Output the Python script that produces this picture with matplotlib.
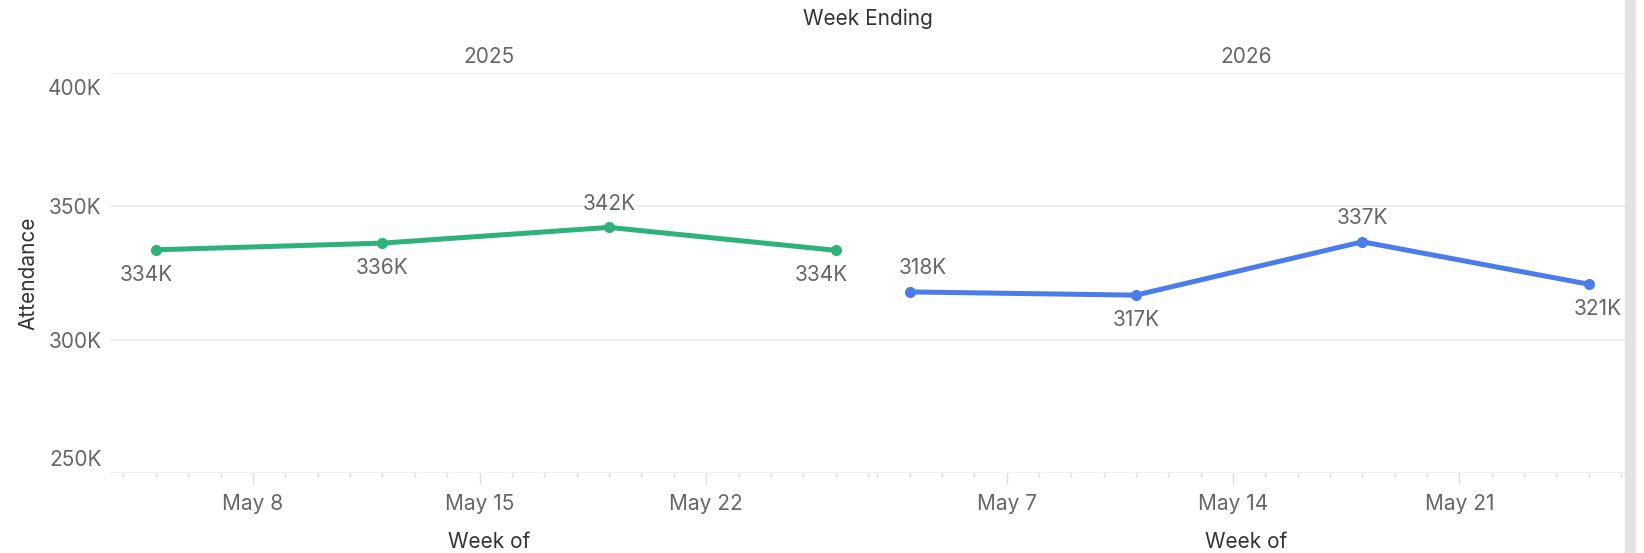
import matplotlib
matplotlib.use("Agg")
import matplotlib.pyplot as plt
import matplotlib.dates as mdates
import matplotlib.transforms as mtransforms
import datetime as dt

plt.rcParams['font.family'] = ['Inter', 'DejaVu Sans']

# data
weeks_2025 = ["2025-05-05", "2025-05-12", "2025-05-19", "2025-05-26"]
attendance_2025 = [333700, 336200, 342100, 333500]
weeks_2026 = ["2026-05-04", "2026-05-11", "2026-05-18", "2026-05-25"]
attendance_2026 = [317900, 316700, 336700, 320800]
years = ["2025", "2026"]
yticks = [250000, 300000, 350000, 400000]
ytick_labels = ["250K", "300K", "350K", "400K"]

panels = [
    dict(dates=weeks_2025, vals=attendance_2025, color="#2db27a",
         xlim=("2025-05-03 14:00", "2025-05-27 00:00"),
         ticks=["2025-05-08", "2025-05-15", "2025-05-22"], dx=[-10, 0, 0, -14]),
    dict(dates=weeks_2026, vals=attendance_2026, color="#4a7ceb",
         xlim=("2026-05-02 17:00", "2026-05-26 03:00"),
         ticks=["2026-05-07", "2026-05-14", "2026-05-21"], dx=[13, 0, 0, 9]),
]

fig = plt.figure(figsize=(16.44, 5.53), dpi=100)
W, H = 1644, 553
top, bottom = 73, 473
lefts = [110, 868]
rights = [868, 1625]

grey = "#666666"
dark = "#333333"
fs = 15

for i, p in enumerate(panels):
    ax = fig.add_axes([lefts[i] / W, 1 - bottom / H, (rights[i] - lefts[i]) / W, (bottom - top) / H])
    x = [dt.datetime.fromisoformat(d) for d in p["dates"]]
    ax.plot(x, p["vals"], color=p["color"], lw=3.6, marker="o", ms=7, zorder=3, clip_on=False)
    ax.set_xlim(dt.datetime.fromisoformat(p["xlim"][0]), dt.datetime.fromisoformat(p["xlim"][1]))
    ax.set_ylim(250000, 400000)
    ax.set_yticks(yticks)
    ax.grid(axis="y", color="#ececec", lw=1.2)
    ax.set_axisbelow(True)
    for s in ax.spines.values():
        s.set_visible(False)

    ax.xaxis.set_major_locator(mdates.DayLocator(bymonthday=[int(t[-2:]) for t in p["ticks"]]))
    ax.xaxis.set_minor_locator(mdates.DayLocator())
    ax.xaxis.set_major_formatter(mdates.DateFormatter("%b %-d"))
    ax.tick_params(axis="x", which="major", length=8, color="#dddddd", width=1,
                   labelsize=fs, labelcolor=grey, pad=7)
    ax.tick_params(axis="x", which="minor", length=3, color="#dddddd", width=1)

    if i == 0:
        ax.set_yticklabels(ytick_labels)
        ax.tick_params(axis="y", length=0, labelsize=fs, labelcolor=grey, pad=6)
        labs = ax.get_yticklabels()
        labs[0].set_transform(labs[0].get_transform() + mtransforms.ScaledTranslation(0, 15 / 100, fig.dpi_scale_trans))
        labs[-1].set_transform(labs[-1].get_transform() + mtransforms.ScaledTranslation(0, -14 / 100, fig.dpi_scale_trans))
        ax.set_ylabel("Attendance", fontsize=fs, color=dark, labelpad=7)
    else:
        ax.tick_params(axis="y", length=0, labelleft=False)

    ax.set_xlabel("Week of", fontsize=fs, color=dark, labelpad=13)
    ax.set_title(years[i], fontsize=fs, color=grey, pad=7)

    vals = p["vals"]
    for j, (xx, v) in enumerate(zip(x, vals)):
        nb = [vals[k] for k in (j - 1, j + 1) if 0 <= k < len(vals)]
        above = all(v >= n for n in nb)
        ax.annotate(f"{v / 1000:.0f}K", (xx, v), xytext=(p["dx"][j] * 0.72, 17 if above else -18),
                    textcoords="offset points", ha="center", va="center",
                    fontsize=fs, color=grey, annotation_clip=False)

fig.text((lefts[0] + rights[1]) / 2 / W, 1 - 19 / H, "Week Ending", ha="center", va="center",
         fontsize=fs, color=dark)
fig.patches.append(plt.Rectangle((1625 / W, 0), 10 / W, 1, transform=fig.transFigure,
                                 color="#e4e4e4", zorder=0))

fig.savefig("out.png", dpi=100)
